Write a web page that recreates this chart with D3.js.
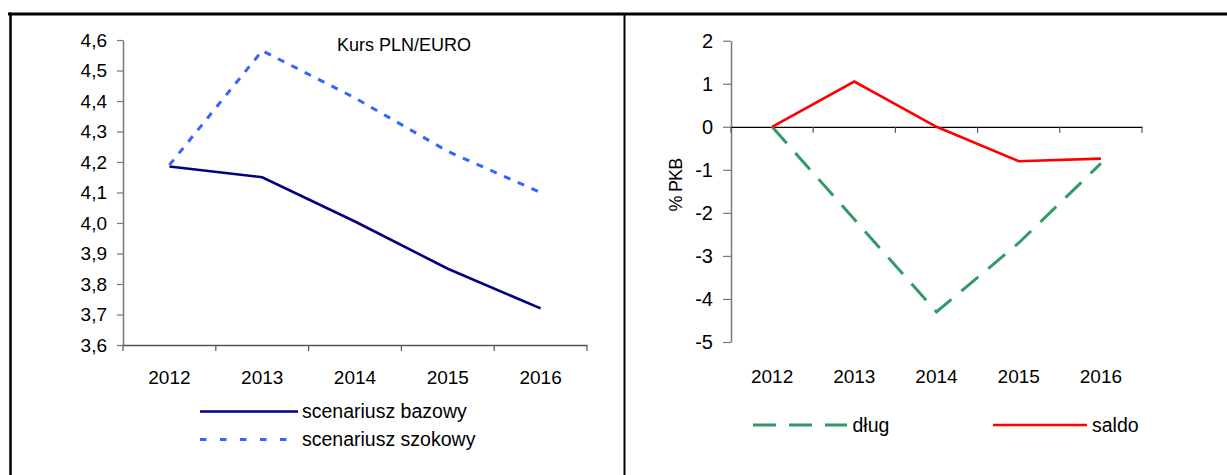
<!DOCTYPE html>
<html><head><meta charset="utf-8">
<script src="https://cdn.jsdelivr.net/npm/d3@7"></script>
<style>
html,body{margin:0;padding:0;background:#fff;}
svg{display:block;font-family:"Liberation Sans",Arial,sans-serif;}
</style></head>
<body>
<svg id="c" width="1227" height="475"></svg>
<script>
// ---- data ----
const years = ["2012","2013","2014","2015","2016"];
const bazowy = [4.185, 4.15, 4.005, 3.85, 3.72];
const szokowy = [4.19, 4.565, 4.41, 4.235, 4.10];
const leftTicks = [3.6,3.7,3.8,3.9,4.0,4.1,4.2,4.3,4.4,4.5,4.6];
const dlug = [0, -2.15, -4.3, -2.7, -0.85];
const saldo = [0, 1.05, 0, -0.8, -0.74];
const rightTicks = [-5,-4,-3,-2,-1,0,1,2];
const leftTitle = "Kurs PLN/EURO";
const leftSeriesNames = ["scenariusz bazowy","scenariusz szokowy"];
const rightSeriesNames = ["dług","saldo"];
const rightYLabel = "% PKB";

const svg = d3.select("#c");
const FF = "Liberation Sans, Arial, sans-serif";

// frame
svg.append("line").attr("x1",8).attr("x2",1227).attr("y1",14).attr("y2",14).attr("stroke","#000").attr("stroke-width",3);
svg.append("line").attr("x1",10.5).attr("x2",10.5).attr("y1",12.5).attr("y2",475).attr("stroke","#000").attr("stroke-width",2.5);
svg.append("line").attr("x1",624.5).attr("x2",624.5).attr("y1",14).attr("y2",475).attr("stroke","#000").attr("stroke-width",2);

// ---------- LEFT CHART ----------
const xL = d3.scaleBand().domain(years).range([123, 587]);
const yL = d3.scaleLinear().domain([3.6, 4.6]).range([345, 40]);
const gL = svg.append("g");
const fmtL = d => d3.format(".1f")(d).replace(".", ",");

const yAxL = gL.append("g").attr("transform","translate(123,0)")
  .call(d3.axisLeft(yL).tickValues(leftTicks).tickFormat(fmtL).tickSize(6).tickSizeOuter(0));
yAxL.select(".domain").attr("stroke","#777").attr("stroke-width",1.5);
yAxL.selectAll(".tick line").attr("stroke","#777").attr("stroke-width",1.2);
yAxL.selectAll(".tick text").attr("font-size",19).attr("fill","#000").attr("x",-16).attr("font-family",FF);

const xAxL = gL.append("g").attr("transform","translate(0,345)")
  .call(d3.axisBottom(xL).tickSize(0).tickSizeOuter(0));
xAxL.select(".domain").attr("stroke","#555").attr("stroke-width",1.5);
xAxL.selectAll(".tick text").attr("font-size",19).attr("fill","#000").attr("dy","0").attr("y",39).attr("font-family",FF);
gL.selectAll(".bt").data(years.concat(["end"])).enter().append("line")
  .attr("x1",(d,i)=> i<years.length ? xL(d) : xL.range()[1])
  .attr("x2",(d,i)=> i<years.length ? xL(d) : xL.range()[1])
  .attr("y1",345).attr("y2",351).attr("stroke","#555").attr("stroke-width",1.2);

const lineL = d3.line().x((d,i)=>xL(years[i])+xL.bandwidth()/2).y(d=>yL(d));
gL.append("path").datum(bazowy).attr("d",lineL).attr("fill","none").attr("stroke","#000080").attr("stroke-width",2.6);
gL.append("path").datum(szokowy).attr("d",lineL).attr("fill","none").attr("stroke","#3366FF").attr("stroke-width",3).attr("stroke-dasharray","7,8");

gL.append("text").attr("x",337).attr("y",51).attr("font-size",18).text(leftTitle);

// left legend
const legL = [{name:leftSeriesNames[0],y:411.5,color:"#000080",dash:null,w:2.6},
              {name:leftSeriesNames[1],y:439.5,color:"#3366FF",dash:"6.5,13.5",w:3}];
legL.forEach(l=>{
  gL.append("line").attr("x1",200).attr("x2",298).attr("y1",l.y).attr("y2",l.y)
    .attr("stroke",l.color).attr("stroke-width",l.w).attr("stroke-dasharray",l.dash);
  gL.append("text").attr("x",302).attr("y",l.y+6.5).attr("font-size",19.5).text(l.name);
});

// ---------- RIGHT CHART ----------
const xR = d3.scaleBand().domain(years).range([731, 1142]);
const yR = d3.scaleLinear().domain([-5, 2]).range([342, 40.7]);
const gR = svg.append("g");

const yAxR = gR.append("g").attr("transform","translate(731,0)")
  .call(d3.axisLeft(yR).tickValues(rightTicks).tickFormat(d=>String(d)).tickSize(8).tickSizeOuter(0));
yAxR.select(".domain").attr("stroke","#777").attr("stroke-width",1.5);
yAxR.selectAll(".tick line").attr("stroke","#777").attr("stroke-width",1.2);
yAxR.selectAll(".tick text").attr("font-size",20).attr("fill","#000").attr("x",-18).attr("font-family",FF);

const y0 = yR(0);
const xAxR = gR.append("g").attr("transform",`translate(0,${y0})`)
  .call(d3.axisBottom(xR).tickSize(0).tickSizeOuter(0));
xAxR.select(".domain").attr("stroke","#000").attr("stroke-width",1.2);
xAxR.selectAll(".tick text").attr("font-size",19).attr("fill","#000").attr("dy","0")
  .attr("y",383 - y0).attr("font-family",FF);
gR.selectAll(".bt").data(years.concat(["end"])).enter().append("line")
  .attr("x1",(d,i)=> i<years.length ? xR(d) : xR.range()[1])
  .attr("x2",(d,i)=> i<years.length ? xR(d) : xR.range()[1])
  .attr("y1",y0).attr("y2",y0+6).attr("stroke","#555").attr("stroke-width",1.2);

const lineR = d3.line().x((d,i)=>xR(years[i])+xR.bandwidth()/2).y(d=>yR(d));
gR.append("path").datum(dlug).attr("d",lineR).attr("fill","none").attr("stroke","#339966").attr("stroke-width",3).attr("stroke-dasharray","22,13");
gR.append("path").datum(saldo).attr("d",lineR).attr("fill","none").attr("stroke","#FF0000").attr("stroke-width",2.6);

gR.append("text").attr("transform","translate(682,185) rotate(-90)").attr("text-anchor","middle")
  .attr("font-size",18).attr("letter-spacing",-0.8).text(rightYLabel);

// right legend
gR.append("line").attr("x1",753).attr("x2",847).attr("y1",425).attr("y2",425)
  .attr("stroke","#339966").attr("stroke-width",3).attr("stroke-dasharray","23,13");
gR.append("text").attr("x",852.5).attr("y",432).attr("font-size",19.5).text(rightSeriesNames[0]);
gR.append("line").attr("x1",993).attr("x2",1087).attr("y1",425).attr("y2",425)
  .attr("stroke","#FF0000").attr("stroke-width",2.6);
gR.append("text").attr("x",1092).attr("y",432).attr("font-size",19.5).text(rightSeriesNames[1]);
</script>
</body></html>
